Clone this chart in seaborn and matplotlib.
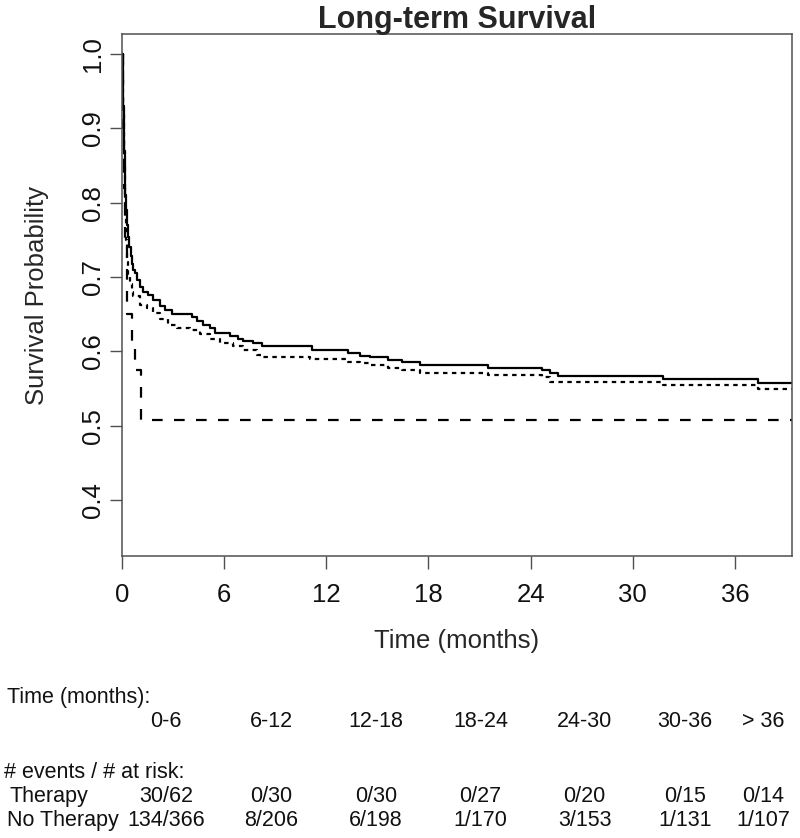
"""
Long-term survival curves (Kaplan-Meier style) with an events / at-risk table.
"""

import matplotlib
matplotlib.use("Agg")  # no display
import matplotlib.pyplot as plt
import pandas as pd
import seaborn as sns

# %% Data
# Solid line : No Therapy
NO_THERAPY_TIME = [0, 0.10, 0.15, 0.19, 0.25, 0.30, 0.39, 0.45, 0.52, 0.59, 0.68,
                   0.78, 0.88, 1.07, 1.27, 1.56, 1.85, 2.25, 2.54, 2.93, 4.11,
                   4.40, 4.79, 5.18, 5.48, 6.36, 6.84, 7.14, 7.72, 8.22, 11.15,
                   13.30, 13.98, 14.57, 15.65, 16.43, 17.51, 21.51, 24.65, 25.13,
                   25.62, 31.78, 37.36, 39.36]
NO_THERAPY_SURV = [1.0, 0.93, 0.87, 0.81, 0.79, 0.77, 0.754, 0.74, 0.728, 0.718,
                   0.71, 0.705, 0.696, 0.687, 0.680, 0.676, 0.669, 0.661, 0.655,
                   0.650, 0.646, 0.641, 0.635, 0.631, 0.625, 0.620, 0.617, 0.614,
                   0.611, 0.607, 0.602, 0.598, 0.594, 0.592, 0.588, 0.585, 0.581,
                   0.578, 0.575, 0.571, 0.567, 0.563, 0.557, 0.557]

# Dotted line : all patients
ALL_TIME = [0, 0.10, 0.15, 0.19, 0.24, 0.29, 0.38, 0.49, 0.58, 0.68, 1.07, 1.47,
            1.85, 2.25, 2.74, 3.23, 4.01, 4.60, 5.18, 5.77, 6.55, 7.14, 7.92,
            8.31, 11.05, 13.30, 13.98, 14.57, 15.65, 16.43, 17.51, 21.51, 24.65,
            25.13, 31.78, 37.36, 39.36]
ALL_SURV = [1.0, 0.92, 0.85, 0.79, 0.75, 0.72, 0.70, 0.69, 0.68, 0.675, 0.662,
            0.658, 0.651, 0.644, 0.635, 0.631, 0.629, 0.623, 0.616, 0.611, 0.607,
            0.602, 0.595, 0.593, 0.589, 0.586, 0.584, 0.581, 0.578, 0.575, 0.571,
            0.568, 0.565, 0.559, 0.555, 0.549, 0.549]

# Dashed line : Therapy
THERAPY_TIME = [0, 0.05, 0.12, 0.20, 0.29, 0.62, 0.78, 1.13, 39.36]
THERAPY_SURV = [1.0, 0.90, 0.82, 0.75, 0.65, 0.61, 0.575, 0.508, 0.508]

# Table below the plot
PERIODS = ["0-6", "6-12", "12-18", "18-24", "24-30", "30-36", "> 36"]
THERAPY_EVENTS = [30, 0, 0, 0, 0, 0, 0]
THERAPY_AT_RISK = [62, 30, 30, 27, 20, 15, 14]
NO_THERAPY_EVENTS = [134, 8, 6, 1, 3, 1, 1]
NO_THERAPY_AT_RISK = [366, 206, 198, 170, 153, 131, 107]

X_TICKS = [0, 6, 12, 18, 24, 30, 36]
Y_TICKS = [0.4, 0.5, 0.6, 0.7, 0.8, 0.9, 1.0]

# Layout (pixels of the 800x838 figure)
W, H = 800, 838
COL_X = [166, 271.5, 376, 480.5, 584.7, 685, 763.3]

# %% Style
sns.set_theme(style="white")
plt.rcParams["font.family"] = ["Liberation Sans", "DejaVu Sans"]
FRAME_COLOR = "#505050"

# %% Long-format table for seaborn
curves = pd.concat([
    pd.DataFrame({"time": NO_THERAPY_TIME, "surv": NO_THERAPY_SURV, "group": "No Therapy"}),
    pd.DataFrame({"time": ALL_TIME, "surv": ALL_SURV, "group": "All"}),
    pd.DataFrame({"time": THERAPY_TIME, "surv": THERAPY_SURV, "group": "Therapy"}),
], ignore_index=True)

fig = plt.figure(figsize=(W / 100, H / 100), dpi=100)
ax_left, ax_right, ax_top, ax_bottom = 121.7, 792.3, 34.3, 555.7
ax = fig.add_axes([ax_left / W, 1 - ax_bottom / H,
                   (ax_right - ax_left) / W, (ax_bottom - ax_top) / H])

sns.lineplot(data=curves, x="time", y="surv", style="group",
             style_order=["No Therapy", "All", "Therapy"],
             dashes={"No Therapy": "", "All": (2, 2), "Therapy": (4.8, 5.1)},
             color="black", linewidth=1.6, drawstyle="steps-post",
             estimator=None, legend=False, ax=ax)

ax.set_xlim(0, 39.36)
ax.set_ylim(0.325, 1.0265)
ax.set_xticks(X_TICKS)
ax.set_xticklabels([str(t) for t in X_TICKS])
ax.set_yticks(Y_TICKS)
ax.set_yticklabels([f"{v:.1f}" for v in Y_TICKS], rotation=90, va="center")

ax.tick_params(axis="both", which="major", direction="out", length=9,
               width=1.0, color=FRAME_COLOR, labelsize=18.5, labelcolor="#111111",
               bottom=True, left=True)
ax.tick_params(axis="x", pad=11)
ax.tick_params(axis="y", pad=3)
for spine in ax.spines.values():
    spine.set_color(FRAME_COLOR)
    spine.set_linewidth(1.1)

ax.set_title("Long-term Survival", fontsize=22, fontweight="bold", pad=4.3)
ax.set_xlabel("Time (months)", fontsize=18.5, va="center")
ax.set_ylabel("Survival Probability", fontsize=18.5, va="center")
ax.xaxis.set_label_coords(0.5, -(641 - ax_bottom) / (ax_bottom - ax_top))
ax.yaxis.set_label_coords(-(ax_left - 37) / (ax_right - ax_left), 0.5)

# %% Events / at-risk table under the plot
TABLE_FS = 15.5


def fig_text(x_px, y_px, s, ha="left"):
    fig.text(x_px / W, 1 - y_px / H, s, ha=ha, va="baseline",
             fontsize=TABLE_FS, color="#111111")


fig_text(7, 703.3, "Time (months):")
fig_text(4, 777.5, "# events / # at risk:")
fig_text(10, 801.7, "Therapy")
fig_text(7, 826.3, "No Therapy")

for i, period in enumerate(PERIODS):
    fig_text(COL_X[i], 727.3, period, ha="center")
    fig_text(COL_X[i], 801.7, f"{THERAPY_EVENTS[i]}/{THERAPY_AT_RISK[i]}", ha="center")
    fig_text(COL_X[i], 826.3, f"{NO_THERAPY_EVENTS[i]}/{NO_THERAPY_AT_RISK[i]}", ha="center")

fig.savefig("out.png", dpi=100)
plt.close(fig)
